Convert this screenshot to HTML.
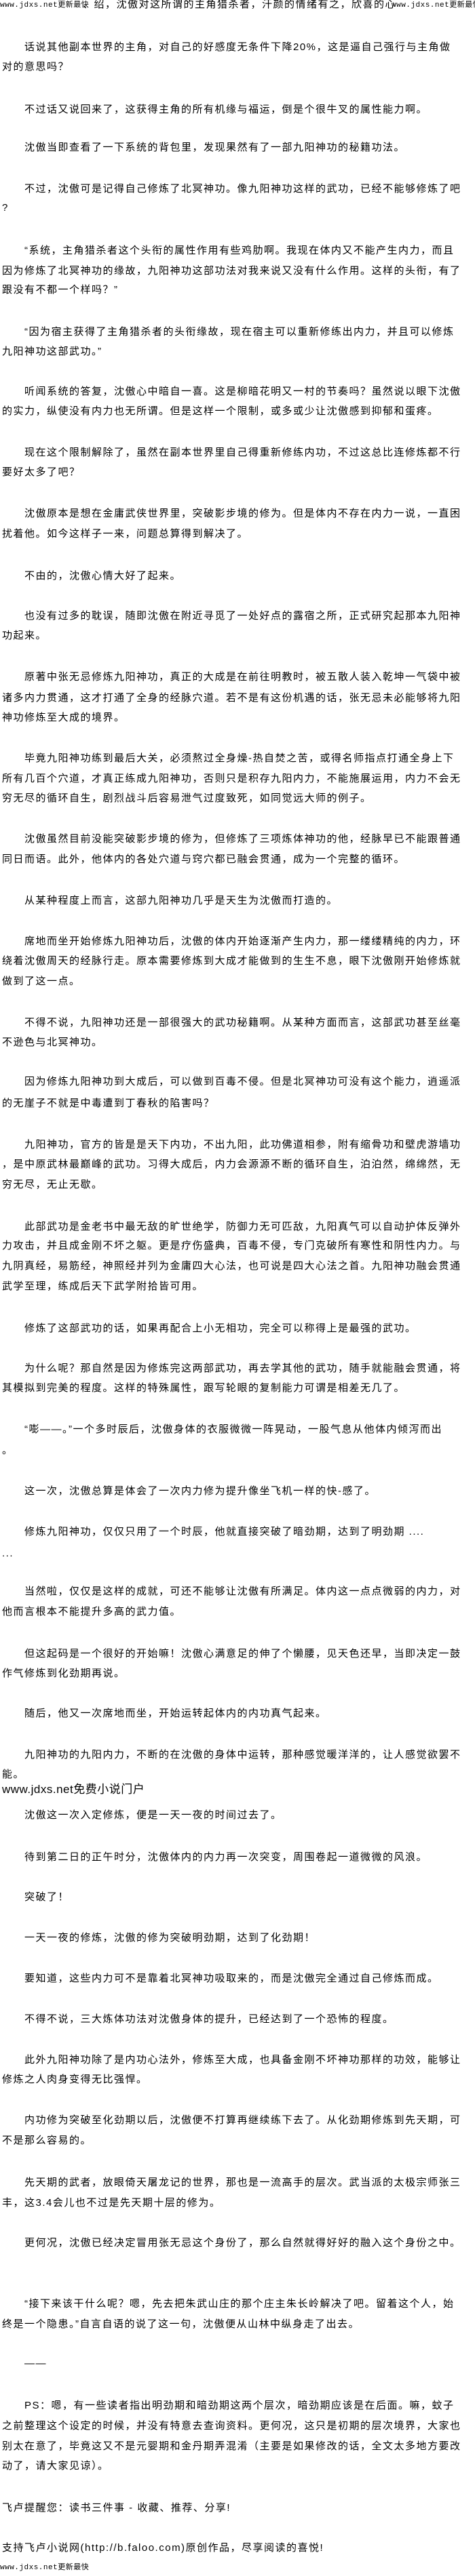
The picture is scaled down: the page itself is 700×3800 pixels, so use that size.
<!DOCTYPE html>
<html><head><meta charset="utf-8">
<style>
html,body{margin:0;padding:0;background:#fff;}
body{width:700px;height:3800px;position:relative;overflow:hidden;
font-family:"Liberation Sans","Noto Sans CJK SC","WenQuanYi Zen Hei",sans-serif;color:#000;}
.l{position:absolute;left:3px;white-space:nowrap;font-size:15px;line-height:18px;letter-spacing:1.5px;}
.i{left:36px;}
.w{position:absolute;white-space:nowrap;font-size:11px;line-height:14px;letter-spacing:0.5px;font-family:"Liberation Mono","Noto Sans CJK SC",monospace;}
</style></head><body>
<div class="w" style="top:1px;left:0">www.jdxs.net更新最快</div>
<div class="l" style="top:-2px;left:122px">、绍，沈傲对这所谓的主角猎杀者，汗颜的情绪有之，欣喜的心</div>
<div class="w" style="top:1px;left:577px">www.jdxs.net更新最快</div>

<div class="l i" style="top:61px">话说其他副本世界的主角，对自己的好感度无条件下降20%，这是逼自己强行与主角做</div>
<div class="l" style="top:90px">对的意思吗？</div>
<div class="l i" style="top:153px">不过话又说回来了，这获得主角的所有机缘与福运，倒是个很牛叉的属性能力啊。</div>
<div class="l i" style="top:209px">沈傲当即查看了一下系统的背包里，发现果然有了一部九阳神功的秘籍功法。</div>
<div class="l i" style="top:270px">不过，沈傲可是记得自己修炼了北冥神功。像九阳神功这样的武功，已经不能够修炼了吧</div>
<div class="l" style="top:298px">?</div>

<div class="l i" style="top:361px">“系统，主角猎杀者这个头衔的属性作用有些鸡肋啊。我现在体内又不能产生内力，而且</div>
<div class="l" style="top:391px">因为修炼了北冥神功的缘故，九阳神功这部功法对我来说又没有什么作用。这样的头衔，有了</div>
<div class="l" style="top:419px">跟没有不都一个样吗？”</div>
<div class="l i" style="top:481px">“因为宿主获得了主角猎杀者的头衔缘故，现在宿主可以重新修练出内力，并且可以修炼</div>
<div class="l" style="top:510px">九阳神功这部武功。”</div>
<div class="l i" style="top:569px">听闻系统的答复，沈傲心中暗自一喜。这是柳暗花明又一村的节奏吗？虽然说以眼下沈傲</div>
<div class="l" style="top:598px">的实力，纵使没有内力也无所谓。但是这样一个限制，或多或少让沈傲感到抑郁和蛋疼。</div>

<div class="l i" style="top:659px">现在这个限制解除了，虽然在副本世界里自己得重新修练内功，不过这总比连修炼都不行</div>
<div class="l" style="top:688px">要好太多了吧？</div>
<div class="l i" style="top:749px">沈傲原本是想在金庸武侠世界里，突破影步境的修为。但是体内不存在内力一说，一直困</div>
<div class="l" style="top:779px">扰着他。如今这样子一来，问题总算得到解决了。</div>
<div class="l i" style="top:841px">不由的，沈傲心情大好了起来。</div>
<div class="l i" style="top:900px">也没有过多的耽误，随即沈傲在附近寻觅了一处好点的露宿之所，正式研究起那本九阳神</div>
<div class="l" style="top:929px">功起来。</div>

<div class="l i" style="top:990px">原著中张无忌修炼九阳神功，真正的大成是在前往明教时，被五散人装入乾坤一气袋中被</div>
<div class="l" style="top:1021px">诸多内力贯通，这才打通了全身的经脉穴道。若不是有这份机遇的话，张无忌未必能够将九阳</div>
<div class="l" style="top:1050px">神功修炼至大成的境界。</div>
<div class="l i" style="top:1110px">毕竟九阳神功练到最后大关，必须熬过全身燥-热自焚之苦，或得名师指点打通全身上下</div>
<div class="l" style="top:1140px">所有几百个穴道，才真正练成九阳神功，否则只是积存九阳内力，不能施展运用，内力不会无</div>
<div class="l" style="top:1169px">穷无尽的循环自生，剧烈战斗后容易泄气过度致死，如同觉远大师的例子。</div>
<div class="l i" style="top:1229px">沈傲虽然目前没能突破影步境的修为，但修炼了三项炼体神功的他，经脉早已不能跟普通</div>
<div class="l" style="top:1259px">同日而语。此外，他体内的各处穴道与窍穴都已融会贯通，成为一个完整的循环。</div>

<div class="l i" style="top:1320px">从某种程度上而言，这部九阳神功几乎是天生为沈傲而打造的。</div>
<div class="l i" style="top:1380px">席地而坐开始修炼九阳神功后，沈傲的体内开始逐渐产生内力，那一缕缕精纯的内力，环</div>
<div class="l" style="top:1409px">绕着沈傲周天的经脉行走。原本需要修炼到大成才能做到的生生不息，眼下沈傲刚开始修炼就</div>
<div class="l" style="top:1439px">做到了这一点。</div>
<div class="l i" style="top:1500px">不得不说，九阳神功还是一部很强大的武功秘籍啊。从某种方面而言，这部武功甚至丝毫</div>
<div class="l" style="top:1529px">不逊色与北冥神功。</div>
<div class="l i" style="top:1587px">因为修炼九阳神功到大成后，可以做到百毒不侵。但是北冥神功可没有这个能力，逍遥派</div>
<div class="l" style="top:1619px">的无崖子不就是中毒遭到丁春秋的陷害吗？</div>

<div class="l i" style="top:1680px">九阳神功，官方的皆是是天下内功，不出九阳，此功佛道相参，附有缩骨功和壁虎游墙功</div>
<div class="l" style="top:1709px">，是中原武林最巅峰的武功。习得大成后，内力会源源不断的循环自生，泊泊然，绵绵然，无</div>
<div class="l" style="top:1739px">穷无尽，无止无歇。</div>
<div class="l i" style="top:1801px">此部武功是金老书中最无敌的旷世绝学，防御力无可匹敌，九阳真气可以自动护体反弹外</div>
<div class="l" style="top:1829px">力攻击，并且成金刚不坏之躯。更是疗伤盛典，百毒不侵，专门克破所有寒性和阴性内力。与</div>
<div class="l" style="top:1859px">九阴真经，易筋经，神照经并列为金庸四大心法，也可说是四大心法之首。九阳神功融会贯通</div>
<div class="l" style="top:1889px">武学至理，练成后天下武学附拾皆可用。</div>

<div class="l i" style="top:1951px">修炼了这部武功的话，如果再配合上小无相功，完全可以称得上是最强的武功。</div>
<div class="l i" style="top:2010px">为什么呢？那自然是因为修炼完这两部武功，再去学其他的武功，随手就能融会贯通，将</div>
<div class="l" style="top:2039px">其模拟到完美的程度。这样的特殊属性，跟写轮眼的复制能力可谓是相差无几了。</div>
<div class="l i" style="top:2100px">“嘭——。”一个多时辰后，沈傲身体的衣服微微一阵晃动，一股气息从他体内倾泻而出</div>
<div class="l" style="top:2131px">。</div>
<div class="l i" style="top:2191px">这一次，沈傲总算是体会了一次内力修为提升像坐飞机一样的快-感了。</div>

<div class="l i" style="top:2251px">修炼九阳神功，仅仅只用了一个时辰，他就直接突破了暗劲期，达到了明劲期 ....</div>
<div class="l" style="top:2283px">...</div>
<div class="l i" style="top:2339px">当然啦，仅仅是这样的成就，可还不能够让沈傲有所满足。体内这一点点微弱的内力，对</div>
<div class="l" style="top:2369px">他而言根本不能提升多高的武力值。</div>
<div class="l i" style="top:2431px">但这起码是一个很好的开始嘛！沈傲心满意足的伸了个懒腰，见天色还早，当即决定一鼓</div>
<div class="l" style="top:2460px">作气修炼到化劲期再说。</div>
<div class="l i" style="top:2519px">随后，他又一次席地而坐，开始运转起体内的内功真气起来。</div>

<div class="l i" style="top:2580px">九阳神功的九阳内力，不断的在沈傲的身体中运转，那种感觉暖洋洋的，让人感觉欲罢不</div>
<div class="l" style="top:2609px">能。</div>
<div class="l" style="top:2631px;font-size:17px;letter-spacing:0.5px">www.jdxs.net免费小说门户</div>
<div class="l i" style="top:2669px">沈傲这一次入定修炼，便是一天一夜的时间过去了。</div>
<div class="l i" style="top:2731px">待到第二日的正午时分，沈傲体内的内力再一次突变，周围卷起一道微微的风浪。</div>
<div class="l i" style="top:2790px">突破了！</div>
<div class="l i" style="top:2850px">一天一夜的修炼，沈傲的修为突破明劲期，达到了化劲期！</div>

<div class="l i" style="top:2910px">要知道，这些内力可不是靠着北冥神功吸取来的，而是沈傲完全通过自己修炼而成。</div>
<div class="l i" style="top:2970px">不得不说，三大炼体功法对沈傲身体的提升，已经达到了一个恐怖的程度。</div>
<div class="l i" style="top:3030px">此外九阳神功除了是内功心法外，修炼至大成，也具备金刚不坏神功那样的功效，能够让</div>
<div class="l" style="top:3059px">修炼之人肉身变得无比强悍。</div>
<div class="l i" style="top:3119px">内功修为突破至化劲期以后，沈傲便不打算再继续练下去了。从化劲期修炼到先天期，可</div>
<div class="l" style="top:3149px">不是那么容易的。</div>

<div class="l i" style="top:3211px">先天期的武者，放眼倚天屠龙记的世界，那也是一流高手的层次。武当派的太极宗师张三</div>
<div class="l" style="top:3241px">丰，这3.4会儿也不过是先天期十层的修为。</div>
<div class="l i" style="top:3300px">更何况，沈傲已经决定冒用张无忌这个身份了，那么自然就得好好的融入这个身份之中。</div>
<div class="l i" style="top:3390px">“接下来该干什么呢？嗯，先去把朱武山庄的那个庄主朱长岭解决了吧。留着这个人，始</div>
<div class="l" style="top:3420px">终是一个隐患。”自言自语的说了这一句，沈傲便从山林中纵身走了出去。</div>
<div class="l i" style="top:3478px">——</div>

<div class="l i" style="top:3540px">PS：嗯，有一些读者指出明劲期和暗劲期这两个层次，暗劲期应该是在后面。嘛，蚊子</div>
<div class="l" style="top:3570px">之前整理这个设定的时候，并没有特意去查询资料。更何况，这只是初期的层次境界，大家也</div>
<div class="l" style="top:3600px">别太在意了，毕竟这又不是元婴期和金丹期弄混淆（主要是如果修改的话，全文太多地方要改</div>
<div class="l" style="top:3629px">动了，请大家见谅）。</div>
<div class="l" style="top:3691px">飞卢提醒您：读书三件事 - 收藏、推荐、分享!</div>
<div class="l" style="top:3750px">支持飞卢小说网(http://b.faloo.com)原创作品，尽享阅读的喜悦!</div>
<div class="w" style="top:3781px;left:0">www.jdxs.net更新最快</div>
</body></html>
